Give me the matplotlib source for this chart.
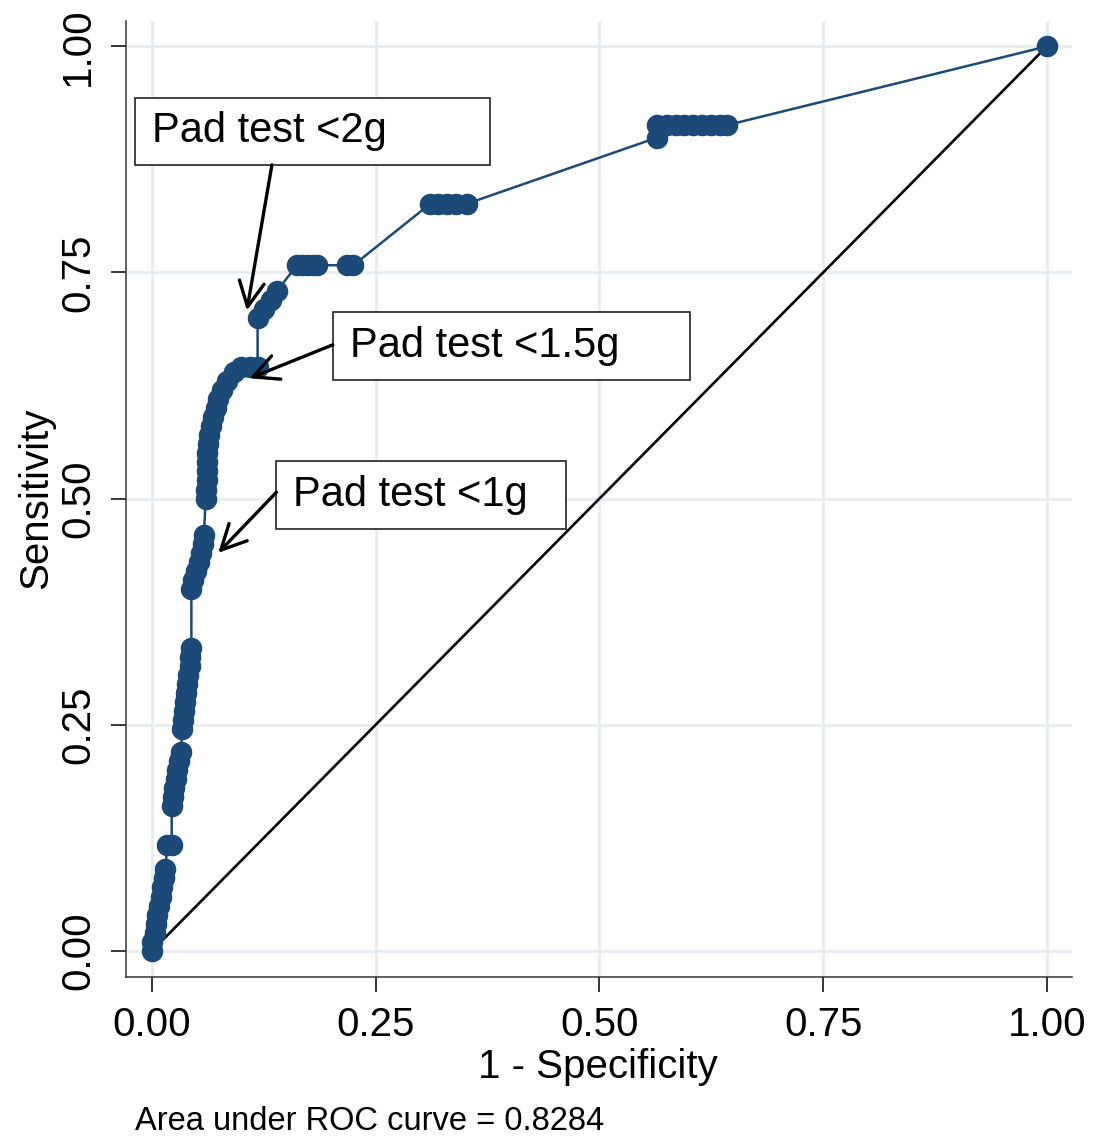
import matplotlib.pyplot as plt
from matplotlib.patches import Rectangle

# ROC points (1 - specificity, sensitivity)
fpr = [0.000, 0.000, 0.003, 0.005, 0.006, 0.008, 0.010, 0.011, 0.013, 0.015,
       0.017, 0.022, 0.022, 0.024, 0.025, 0.027, 0.028, 0.030, 0.032,
       0.034, 0.035, 0.036, 0.037, 0.038, 0.039, 0.040, 0.042, 0.043, 0.044,
       0.044, 0.046, 0.049, 0.052, 0.055, 0.057, 0.058,
       0.060, 0.060, 0.061, 0.061, 0.062, 0.062, 0.063, 0.064, 0.066, 0.068,
       0.071, 0.074, 0.078, 0.084, 0.092, 0.100, 0.110, 0.118,
       0.118, 0.125, 0.133, 0.140,
       0.162, 0.168, 0.174, 0.180, 0.184, 0.218, 0.225,
       0.311, 0.320, 0.330, 0.340, 0.352,
       0.564, 0.564, 0.575, 0.585, 0.595, 0.605, 0.615, 0.625, 0.635, 0.643,
       1.000]
tpr = [0.000, 0.010, 0.020, 0.030, 0.040, 0.050, 0.060, 0.070, 0.080, 0.090,
       0.117, 0.117, 0.160, 0.170, 0.180, 0.190, 0.200, 0.210, 0.220,
       0.245, 0.255, 0.265, 0.275, 0.285, 0.295, 0.305, 0.315, 0.325, 0.335,
       0.400, 0.410, 0.420, 0.430, 0.440, 0.450, 0.460,
       0.500, 0.510, 0.520, 0.530, 0.540, 0.550, 0.560, 0.570, 0.580, 0.590,
       0.600, 0.610, 0.620, 0.630, 0.640, 0.645, 0.645, 0.645,
       0.700, 0.710, 0.720, 0.730,
       0.758, 0.758, 0.758, 0.758, 0.758, 0.758, 0.758,
       0.826, 0.826, 0.826, 0.826, 0.826,
       0.899, 0.913, 0.913, 0.913, 0.913, 0.913, 0.913, 0.913, 0.913, 0.913,
       1.000]
auc = 0.8284
ticks = [0.00, 0.25, 0.50, 0.75, 1.00]

# callouts: label, arrow tip, arrow start, box (x0, y0, x1, y1)
callouts = [
    ('Pad test <2g',   (0.106, 0.708), (0.134, 0.869), (-0.019, 0.869, 0.378, 0.943)),
    ('Pad test <1.5g', (0.109, 0.633), (0.202, 0.670), (0.202, 0.631, 0.601, 0.706)),
    ('Pad test <1g',   (0.074, 0.440), (0.139, 0.507), (0.139, 0.466, 0.463, 0.541)),
]

plt.rcParams['font.family'] = ['Liberation Sans', 'DejaVu Sans']
blue = '#1c4a78'

fig = plt.figure(figsize=(10.98, 11.43), dpi=100)
ax = fig.add_axes([0.1148, 0.1452, 0.8615, 0.8364])

ax.plot([0, 1], [0, 1], color='black', lw=1.9, zorder=2)
ax.plot(fpr, tpr, color=blue, lw=1.8, marker='o', markersize=14.5,
        markerfacecolor=blue, markeredgecolor=blue, zorder=3)

for label, tip, start, box in callouts:
    x0, y0, x1, y1 = box
    ax.add_patch(Rectangle((x0, y0), x1 - x0, y1 - y0, facecolor='white',
                           edgecolor='#222222', lw=1.2, zorder=4))
    ax.text(x0 + 0.019, (y0 + y1) / 2, label, fontsize=30, va='center',
            ha='left', zorder=5)
    ax.annotate('', xy=tip, xytext=start, zorder=5,
                arrowprops=dict(arrowstyle='->,head_length=0.6,head_width=0.3',
                                color='black', lw=2.4, mutation_scale=30,
                                shrinkA=0, shrinkB=0))

ax.set_xlim(-0.029, 1.028)
ax.set_ylim(-0.029, 1.028)
ax.set_xticks(ticks)
ax.set_yticks(ticks)
ax.set_xticklabels([f'{t:.2f}' for t in ticks])
ax.set_yticklabels([f'{t:.2f}' for t in ticks], rotation=90, va='center')
ax.tick_params(labelsize=29, length=11, width=1.1, pad=10, colors='black')
ax.grid(True, color='#e6ecf0', lw=2)
ax.set_axisbelow(True)
for side in ['top', 'right']:
    ax.spines[side].set_visible(False)
for side in ['left', 'bottom']:
    ax.spines[side].set_linewidth(1.1)
    ax.spines[side].set_color('#333333')

ax.set_xlabel('1 - Specificity', fontsize=29)
ax.set_ylabel('Sensitivity', fontsize=29)
ax.xaxis.set_label_coords(0.499, -0.074)
ax.yaxis.set_label_coords(-0.075, 0.501)

fig.text(0.123, 0.011, f'Area under ROC curve = {auc}', fontsize=23.5,
         va='baseline', ha='left')

fig.savefig('out.png', dpi=100)
